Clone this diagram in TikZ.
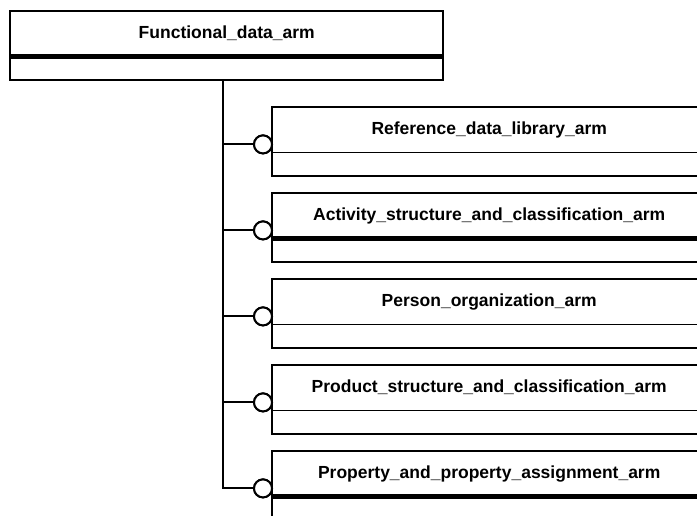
\documentclass[tikz,border=0pt]{standalone}
\usepackage{fontspec}
\setmainfont{Liberation Sans}
\begin{document}
\begin{tikzpicture}[x=1bp,y=-1bp,
  every node/.style={font=\bfseries\fontsize{17.5bp}{20bp}\selectfont},
  titlebox/.style={minimum height=45bp,inner sep=0pt,anchor=north west},
  attrbox/.style={minimum height=23bp,inner sep=0pt,anchor=north},
  frame/.style={line width=2bp},
  link/.style={line width=2bp},
  ring/.style={draw,circle,line width=2bp,minimum size=18bp,inner sep=0pt,fill=white}]
\useasboundingbox (0,0) rectangle (697,516);
\clip (0,0) rectangle (697,516);
% parent
\node[titlebox,minimum width=433bp] (fd) at (10,11) {Functional\_data\_arm};
\node[attrbox,minimum width=433bp] (fda) at (fd.south) {};
\draw[frame] (fd.north west) rectangle (fda.south east);
\draw[line width=4.5bp] (fd.south west) -- (fd.south east);
% children
\foreach \i/\t/\txt/\dv in {
  1/107/Reference\_data\_library\_arm/1.4,
  2/193/Activity\_structure\_and\_classification\_arm/4.5,
  3/279/Person\_organization\_arm/1.4,
  4/365/Product\_structure\_and\_classification\_arm/1.4,
  5/451/Property\_and\_property\_assignment\_arm/4.5}{
  \node[titlebox,minimum width=434bp] (c\i) at (272,\t) {\txt};
  \node[attrbox,minimum width=434bp] (c\i a) at (c\i.south) {};
  \draw[frame] (c\i.north west) rectangle (c\i a.south east);
  \draw[line width=\dv bp] (c\i.south west) -- (c\i.south east);
  \node[ring] (r\i) at ([yshift=8bp]c\i.south west -| 263,0) {};
  \coordinate (j\i) at (r\i.center -| 223,0);
}
\coordinate (t0) at (fda.south -| 223,0);
\draw[link] (t0) -- (j5) -- (r5.west);
\foreach \i in {1,2,3,4}{\draw[link] (j\i) -- (r\i.west);}
\foreach \i in {1,...,5}{\node[ring] at (r\i) {};}
\end{tikzpicture}
\end{document}
